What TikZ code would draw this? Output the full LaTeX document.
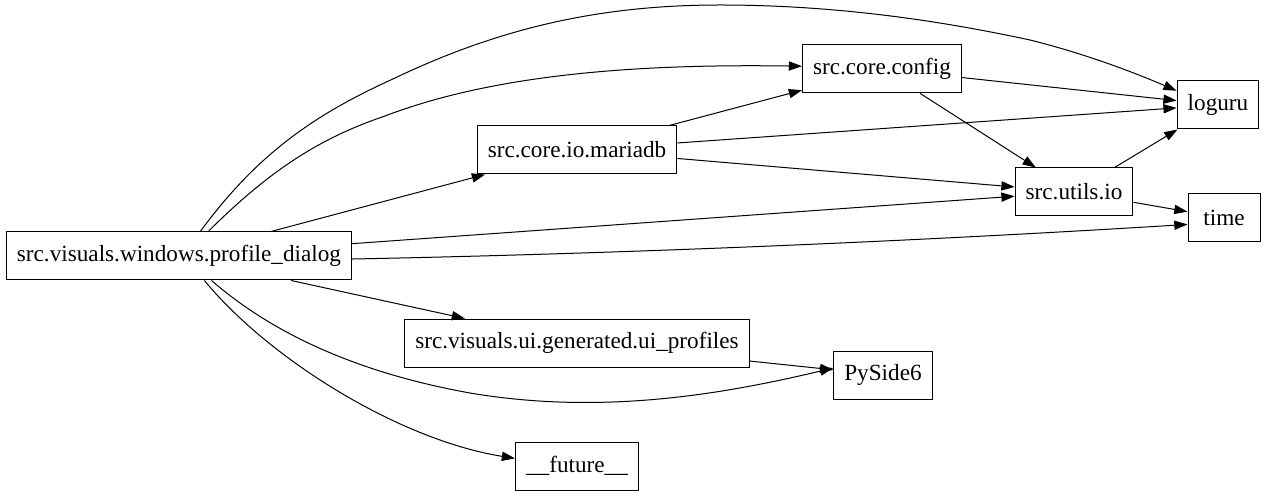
\documentclass[tikz,border=0pt]{standalone}
\usepackage{fontspec}
\setmainfont{Liberation Serif}
\usetikzlibrary{arrows.meta}

\begin{document}
\begin{tikzpicture}[x=0.5pt,y=-0.5pt,
    modul/.style={draw, rectangle, line width=0.5pt, minimum width=36pt, minimum height=24pt,
      inner xsep=5.3pt, font=\fontsize{11.6}{13}\selectfont},
    pfeil/.style={-{Triangle[length=6.6pt,width=4.6pt]}, line width=0.5pt}]
  \useasboundingbox (0,0) rectangle (1272,496);
  % Module:
  \node[modul] (dialog)  at (179,256) {src.visuals.windows.profile\_dialog};
  \node[modul] (mariadb) at (577,150) {src.core.io.mariadb};
  \node[modul] (config)  at (882,69)  {src.core.config};
  \node[modul] (loguru)  at (1218,105) {loguru};
  \node[modul] (utilsio) at (1074,192) {src.utils.io};
  \node[modul] (time)    at (1224,218) {time};
  \node[modul] (uiprof)  at (577,343) {src.visuals.ui.generated.ui\_profiles};
  \node[modul] (pyside)  at (883,375) {PySide6};
  \node[modul] (future)  at (577,466) {\_\_future\_\_};
  % gerade Pfeile:
  \draw[pfeil] (dialog) -- (mariadb);
  \draw[pfeil] (dialog) -- (utilsio);
  \draw[pfeil] (dialog) -- (uiprof);
  \draw[pfeil] (mariadb) -- (config);
  \draw[pfeil] (mariadb) -- (loguru);
  \draw[pfeil] (mariadb) -- (utilsio);
  \draw[pfeil] (config) -- (loguru);
  \draw[pfeil] (config) -- (utilsio);
  \draw[pfeil] (utilsio) -- (loguru);
  \draw[pfeil] (utilsio) -- (time);
  \draw[pfeil] (uiprof) -- (pyside);
  % gebogene Pfeile:
  \draw[pfeil] (dialog.49) .. controls (260,150) and (320,112) .. (395,78)
    .. controls (500,28) and (600,5) .. (720,5)
    .. controls (850,5) and (960,25) .. (1030,40)
    .. controls (1090,55) and (1140,75) .. (loguru.161); % nach loguru
  \draw[pfeil] (dialog.40) .. controls (270,170) and (320,138) .. (385,116)
    .. controls (500,72) and (650,64) .. (config.178); % nach config
  \draw[pfeil] (dialog.-1) .. controls (700,252) and (1000,236) .. (time.190); % nach time
  \draw[pfeil] (dialog.-37) .. controls (280,340) and (370,375) .. (470,393)
    .. controls (600,415) and (720,395) .. (pyside.172); % nach PySide6
  \draw[pfeil] (dialog.-44) .. controls (270,360) and (400,440) .. (future.173); % nach future
\end{tikzpicture}
\end{document}
